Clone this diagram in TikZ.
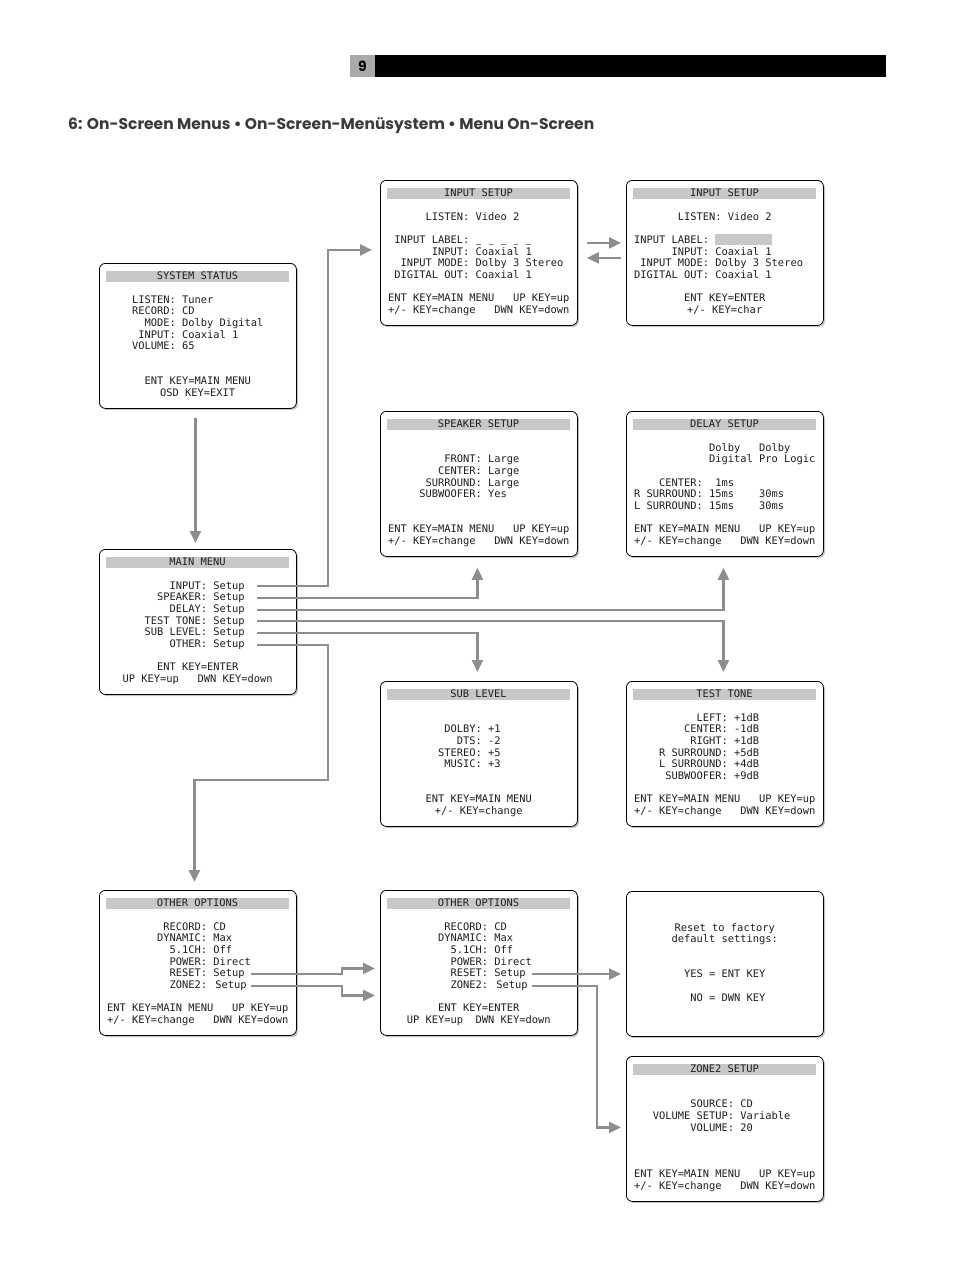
\documentclass[tikz,border=0pt]{standalone}
\usepackage{fontspec}
\usepackage{graphicx}
\newfontfamily\scrfont{DejaVu Sans Mono}
\newfontfamily\hdfont{Poppins}
\usetikzlibrary{arrows.meta,shadows,calc}
\definecolor{arrc}{HTML}{8E8E8E}
\definecolor{barc}{HTML}{C8C8C8}
\definecolor{ttlc}{HTML}{3A3A3A}
\definecolor{txtc}{HTML}{1E1E1E}
\newcommand\Ln[3]{\node[txt] at ({8+6.25*(#1)},{16.8+11.67*(#2)}) {#3};}
\newcommand\Scr[5]{%
  \node[screen] (#1) at (#2,#3) {};
  \begin{scope}[shift={(#2,#3)}]
    \fill[barc] (7,8) rectangle (190,18.5);
    \node[txt,anchor=base] at (98.5,16.8) {#4};
    #5
  \end{scope}}
\newcommand\ScrN[4]{%
  \node[screen] (#1) at (#2,#3) {};
  \begin{scope}[shift={(#2,#3)}]
    #4
  \end{scope}}
\newcommand\StdFoot{\Ln{0}{9}{ENT KEY=MAIN MENU}\Ln{20}{9}{UP KEY=up}\Ln{0}{10}{+/- KEY=change}\Ln{17}{10}{DWN KEY=down}}
\begin{document}
\begin{tikzpicture}[x=1pt,y=-1pt,
  screen/.style={draw=black, line width=0.8pt, rounded corners=6pt, fill=white,
    minimum width=197pt, minimum height=145pt, inner sep=0pt, anchor=north west,
    drop shadow={shadow xshift=1.6pt, shadow yshift=-1.6pt, fill=black!45}},
  txt/.style={font=\scrfont\fontsize{10.4}{12}\selectfont, text=txtc, anchor=base west, inner sep=0pt, outer sep=0pt},
  ulmark/.style={draw=black!50, line width=0.9pt},
  arr/.style={draw=arrc, line width=2.4pt, -{Triangle[length=12pt,width=11pt]}}]
\useasboundingbox (0,0) rectangle (954,1272);

% header
\fill[barc!85!black] (350,55) rectangle (375,77);
\fill[black] (375,55) rectangle (886,77);
\node[inner sep=0pt, font=\hdfont\bfseries\fontsize{14}{14}\selectfont] (pg) at (362.5,66) {9};
\node[anchor=base west, inner sep=0pt, text=ttlc] (title) at (68,129)
  {\resizebox{526pt}{!}{\hdfont\bfseries 6: On-Screen Menus • On-Screen-Menüsystem • Menu On-Screen}};

% screens
\Scr{sys}{99}{263}{SYSTEM STATUS}{%
  \Ln{4}{2}{LISTEN: Tuner}
  \Ln{4}{3}{RECORD: CD}
  \Ln{6}{4}{MODE: Dolby Digital}
  \Ln{5}{5}{INPUT: Coaxial 1}
  \Ln{4}{6}{VOLUME: 65}
  \Ln{6}{9}{ENT KEY=MAIN MENU}
  \Ln{8.5}{10}{OSD KEY=EXIT}}

\Scr{in1}{380}{180}{INPUT SETUP}{%
  \Ln{6}{2}{LISTEN: Video 2}
  \Ln{1}{4}{INPUT LABEL:}
  \foreach \k in {0,2,4,6,8} {\draw[ulmark] ({8+6.25*(14+\k)+0.8},{16.8+11.67*4+0.6}) -- ++(4.6,0);}
  \Ln{7}{5}{INPUT: Coaxial 1}
  \Ln{2}{6}{INPUT MODE: Dolby 3 Stereo}
  \Ln{1}{7}{DIGITAL OUT: Coaxial 1}
  \StdFoot}

\Scr{in2}{626}{180}{INPUT SETUP}{%
  \fill[barc] ({8+6.25*13},54) rectangle ({8+6.25*22},64.5);
  \Ln{7}{2}{LISTEN: Video 2}
  \Ln{0}{4}{INPUT LABEL:}
  \Ln{6}{5}{INPUT: Coaxial 1}
  \Ln{1}{6}{INPUT MODE: Dolby 3 Stereo}
  \Ln{0}{7}{DIGITAL OUT: Coaxial 1}
  \Ln{8}{9}{ENT KEY=ENTER}
  \Ln{8.5}{10}{+/- KEY=char}}

\Scr{spk}{380}{411}{SPEAKER SETUP}{%
  \Ln{9}{3}{FRONT: Large}
  \Ln{8}{4}{CENTER: Large}
  \Ln{6}{5}{SURROUND: Large}
  \Ln{5}{6}{SUBWOOFER: Yes}
  \StdFoot}

\Scr{dly}{626}{411}{DELAY SETUP}{%
  \Ln{12}{2}{Dolby}\Ln{20}{2}{Dolby}
  \Ln{12}{3}{Digital Pro Logic}
  \Ln{4}{5}{CENTER:}\Ln{13}{5}{1ms}
  \Ln{0}{6}{R SURROUND: 15ms}\Ln{20}{6}{30ms}
  \Ln{0}{7}{L SURROUND: 15ms}\Ln{20}{7}{30ms}
  \StdFoot}

\Scr{mm}{99}{549}{MAIN MENU}{%
  \Ln{10}{2}{INPUT: Setup}
  \Ln{8}{3}{SPEAKER: Setup}
  \Ln{10}{4}{DELAY: Setup}
  \Ln{6}{5}{TEST TONE: Setup}
  \Ln{6}{6}{SUB LEVEL: Setup}
  \Ln{10}{7}{OTHER: Setup}
  \Ln{8}{9}{ENT KEY=ENTER}
  \Ln{2.5}{10}{UP KEY=up}\Ln{14.5}{10}{DWN KEY=down}}

\Scr{sub}{380}{681}{SUB LEVEL}{%
  \Ln{9}{3}{DOLBY: +1}
  \Ln{11}{4}{DTS: -2}
  \Ln{8}{5}{STEREO: +5}
  \Ln{9}{6}{MUSIC: +3}
  \Ln{6}{9}{ENT KEY=MAIN MENU}
  \Ln{7.5}{10}{+/- KEY=change}}

\Scr{tt}{626}{681}{TEST TONE}{%
  \Ln{10}{2}{LEFT: +1dB}
  \Ln{8}{3}{CENTER: -1dB}
  \Ln{9}{4}{RIGHT: +1dB}
  \Ln{4}{5}{R SURROUND: +5dB}
  \Ln{4}{6}{L SURROUND: +4dB}
  \Ln{5}{7}{SUBWOOFER: +9dB}
  \StdFoot}

\Scr{oo1}{99}{890}{OTHER OPTIONS}{%
  \Ln{9}{2}{RECORD: CD}
  \Ln{8}{3}{DYNAMIC: Max}
  \Ln{10}{4}{5.1CH: Off}
  \Ln{10}{5}{POWER: Direct}
  \Ln{10}{6}{RESET: Setup}
  \Ln{10}{7}{ZONE2: Setup}
  \StdFoot}

\Scr{oo2}{380}{890}{OTHER OPTIONS}{%
  \Ln{9}{2}{RECORD: CD}
  \Ln{8}{3}{DYNAMIC: Max}
  \Ln{10}{4}{5.1CH: Off}
  \Ln{10}{5}{POWER: Direct}
  \Ln{10}{6}{RESET: Setup}
  \Ln{10}{7}{ZONE2: Setup}
  \Ln{8}{9}{ENT KEY=ENTER}
  \Ln{3}{10}{UP KEY=up}\Ln{14}{10}{DWN KEY=down}}

\ScrN{rst}{626}{891}{%
  \Ln{6.5}{2}{Reset to factory}
  \Ln{6}{3}{default settings:}
  \Ln{8}{6}{YES = ENT KEY}
  \Ln{9}{8}{NO = DWN KEY}}

\Scr{z2}{626}{1056}{ZONE2 SETUP}{%
  \Ln{9}{3}{SOURCE: CD}
  \Ln{3}{4}{VOLUME SETUP: Variable}
  \Ln{9}{5}{VOLUME: 20}
  \StdFoot}

% connector start points (ends of menu lines)
\coordinate (mmIn) at (257,586);
\coordinate (mmSp) at (257,598);
\coordinate (mmDl) at (257,610);
\coordinate (mmTT) at (257,621);
\coordinate (mmSL) at (257,633);
\coordinate (mmOt) at (257,645);
\coordinate (ooR) at (251,974);
\coordinate (ooZ) at (251,986);
\coordinate (oo2R) at (532,974);
\coordinate (oo2Z) at (532,986);
\coordinate (otBend) at (328,780);

% connectors
\draw[arr] ($(sys.south)+(-2.5,9)$) -- ($(mm.north)+(-2.5,-6)$);
\draw[arr] (mmIn) -| ($(in1.west)+(-52,-3)$) -- ($(in1.west)+(-8,-3)$);
\draw[arr] (mmSp) -| ($(spk.south)+(-1.5,11)$);
\draw[arr] (mmDl) -| ($(dly.south)+(-1.5,11)$);
\draw[arr] (mmTT) -| ($(tt.north)+(-1.5,-9)$);
\draw[arr] (mmSL) -| ($(sub.north)+(-1.5,-9)$);
\draw[arr] (mmOt) -| (otBend) -| ($(oo1.north)+(-3.5,-8)$);
\draw[arr] ($(in1.east)+(9,-10)$) -- ($(in2.west)+(-5,-10)$);
\draw[arr] ($(in2.west)+(-5,5)$) -- ($(in1.east)+(9,5)$);
\draw[arr] (ooR) -| ($(oo2.west)+(-38,5.5)$) -- ($(oo2.west)+(-5,5.5)$);
\draw[arr] (ooZ) -| ($(oo2.west)+(-38,32.5)$) -- ($(oo2.west)+(-5,32.5)$);
\draw[arr] (oo2R) -- ([xshift=-5pt]oo2R -| rst.west);
\draw[arr] (oo2Z) -| ($(z2.west)+(-29,-1.5)$) -- ($(z2.west)+(-5,-1.5)$);
\end{tikzpicture}
\end{document}
